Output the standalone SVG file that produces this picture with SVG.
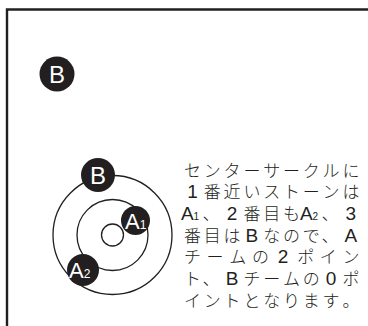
<svg xmlns="http://www.w3.org/2000/svg" width="368" height="326" viewBox="0 0 368 326">
<style>
.frame{fill:none;stroke:#231f20;stroke-width:2.4}
.ring{fill:none;stroke:#231f20;stroke-width:1.3}
.stone{fill:#231f20}
.sl{fill:#fff;font-family:"Liberation Sans","DejaVu Sans",sans-serif}
.tx{fill:#231f20;font-family:"Noto Sans CJK JP","Noto Sans",sans-serif;font-size:17px;font-weight:300;text-anchor:middle}
.la{font-family:"Liberation Sans","Noto Sans",sans-serif;font-size:19px}
.sub{font-family:"Liberation Sans","Noto Sans",sans-serif;font-size:10px;text-anchor:start}
</style>
<rect width="368" height="326" fill="#fff"/>
<path class="frame" d="M7 330 V9.5 H372"/>
<g id="house">
<circle class="ring" cx="112.5" cy="235" r="59.5"/>
<circle class="ring" cx="112.5" cy="235" r="35.5"/>
<circle class="ring" cx="112.5" cy="235" r="11"/>
</g>
<g id="stone-b-far">
<circle class="stone" cx="57" cy="74" r="17.5"/>
<text class="sl" x="57" y="82.5" font-size="24" text-anchor="middle">B</text>
</g>
<g id="stone-b">
<circle class="stone" cx="98" cy="175" r="17"/>
<text class="sl" x="98" y="183.5" font-size="24" text-anchor="middle">B</text>
</g>
<g id="stone-a1">
<circle class="stone" cx="135.5" cy="220.5" r="14.5"/>
<text class="sl" x="125" y="228.5" font-size="22">A<tspan font-size="12">1</tspan></text>
</g>
<g id="stone-a2">
<circle class="stone" cx="83" cy="270" r="16"/>
<text class="sl" x="69" y="277.5" font-size="22">A<tspan font-size="12">2</tspan></text>
</g>
<g id="caption" class="tx">
<text y="176.5" x="192.5 212.3 232.1 251.9 271.7 291.5 311.3 331.1 350.9">センターサークルに</text>
<text y="198.2"><tspan class="la" x="192.5">1</tspan><tspan x="212.3 232.1 251.9 271.7 291.5 311.3 331.1 350.9">番近いストーンは</tspan></text>
<text y="219.9"><tspan class="la" x="190">A<tspan class="sub">1</tspan></tspan><tspan x="211">、</tspan><tspan class="la" x="232.1">2</tspan><tspan x="251.9 271.7 291.5">番目も</tspan><tspan class="la" x="309">A<tspan class="sub">2</tspan></tspan><tspan x="330">、</tspan><tspan class="la" x="350.9">3</tspan></text>
<text y="241.6"><tspan x="192.5 212.3 232.1">番目は</tspan><tspan class="la" x="251.9">B</tspan><tspan x="271.7 291.5 311.3">なので</tspan><tspan x="330">、</tspan><tspan class="la" x="350.9">A</tspan></text>
<text y="263.3"><tspan x="192.5 215.1 237.8 260.4">チームの</tspan><tspan class="la" x="283.0">2</tspan><tspan x="305.7 328.3 350.9">ポイン</tspan></text>
<text y="285"><tspan x="192.5">ト</tspan><tspan x="211">、</tspan><tspan class="la" x="232.1">B</tspan><tspan x="251.9 271.7 291.5 311.3">チームの</tspan><tspan class="la" x="331.1">0</tspan><tspan x="350.9">ポ</tspan></text>
<text y="306.7"><tspan x="192.5 212.3 232.1 251.9 271.7 291.5 311.3 331.1">イントとなります</tspan><tspan x="350.9">。</tspan></text>
</g>
</svg>
